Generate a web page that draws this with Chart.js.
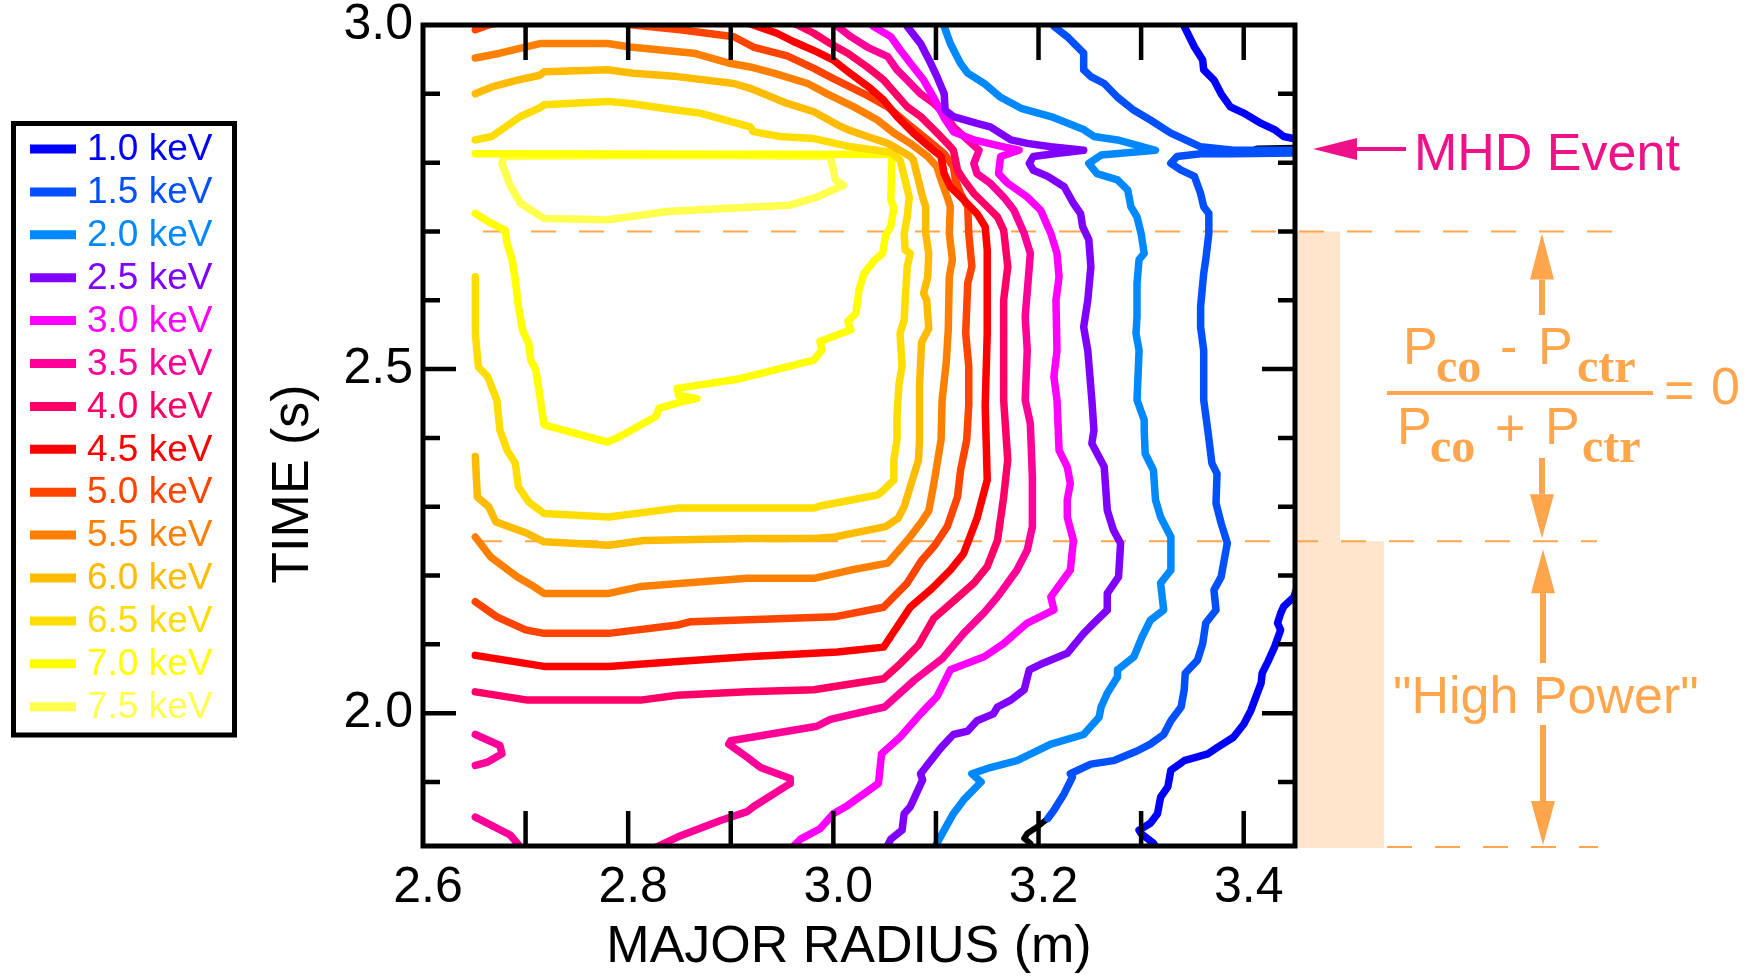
<!DOCTYPE html>
<html>
<head>
<meta charset="utf-8">
<script src="https://cdn.jsdelivr.net/npm/chart.js@4.4.1/dist/chart.umd.min.js"></script>
<style>
  html, body { margin: 0; padding: 0; background: #fff; }
  #wrap { width: 1760px; height: 977px; }
</style>
</head>
<body>
<div id="wrap"><canvas id="myChart" width="1760" height="977"></canvas></div>
<script>
// contour levels and colours (legend order)
const levels = ["1.0 keV", "1.5 keV", "2.0 keV", "2.5 keV", "3.0 keV", "3.5 keV", "4.0 keV",
  "4.5 keV", "5.0 keV", "5.5 keV", "6.0 keV", "6.5 keV", "7.0 keV", "7.5 keV"];
const colors = ["#0000FF", "#0050FF", "#0088FF", "#8000FF", "#FF00FF", "#FF0099", "#FF0066",
  "#FF0000", "#FF4400", "#FF8000", "#FFBB00", "#FFDD00", "#FFFF00", "#FFFF4D"];

const xTicks = [2.6, 2.8, 3.0, 3.2, 3.4];
const yTicks = [2.0, 2.5, 3.0];
const xMinorTicks = [2.7, 2.8, 2.9, 3.0, 3.1, 3.2, 3.3, 3.4];
const yMinorTicks = [1.9, 2.1, 2.2, 2.3, 2.4, 2.6, 2.7, 2.8, 2.9];
const yMajorTicks = [2.0, 2.5];

// contour lines: [major radius (m), time (s)]
const k10a = [[3.340,3.007],[3.342,2.998],[3.352,2.968],[3.360,2.949],[3.361,2.935],[3.371,2.920],[3.378,2.900],
  [3.387,2.881],[3.400,2.872],[3.417,2.857],[3.430,2.848],[3.439,2.838],[3.455,2.833]];
const k10b = [[3.455,2.196],[3.449,2.169],[3.439,2.155],[3.436,2.145],[3.433,2.131],[3.436,2.121],[3.430,2.096],
  [3.423,2.073],[3.418,2.058],[3.417,2.044],[3.407,2.004],[3.400,1.984],[3.390,1.965],[3.374,1.950],[3.365,1.941],
  [3.342,1.931],[3.329,1.917],[3.326,1.893],[3.319,1.878],[3.316,1.854],[3.309,1.840],[3.298,1.830],[3.300,1.825],
  [3.312,1.811],[3.316,1.802]];
const k15 = [[3.213,3.007],[3.215,2.998],[3.228,2.983],[3.244,2.959],[3.244,2.935],[3.251,2.925],[3.264,2.915],
  [3.277,2.895],[3.293,2.876],[3.309,2.862],[3.329,2.843],[3.358,2.823],[3.390,2.818],[3.455,2.818],[3.455,2.814],
  [3.388,2.813],[3.358,2.813],[3.335,2.809],[3.329,2.799],[3.339,2.789],[3.352,2.780],[3.358,2.755],[3.361,2.736],
  [3.366,2.726],[3.366,2.697],[3.363,2.659],[3.361,2.639],[3.358,2.591],[3.358,2.561],[3.361,2.527],[3.361,2.455],
  [3.365,2.411],[3.369,2.363],[3.374,2.348],[3.373,2.305],[3.378,2.276],[3.384,2.247],[3.378,2.198],[3.371,2.179],
  [3.373,2.150],[3.363,2.131],[3.360,2.101],[3.355,2.077],[3.343,2.058],[3.342,2.034],[3.339,2.009],[3.329,1.989],
  [3.322,1.969],[3.309,1.955],[3.296,1.945],[3.273,1.931],[3.251,1.926],[3.231,1.912],[3.233,1.907],[3.225,1.883],
  [3.215,1.859],[3.209,1.847]];
const k20 = [[3.106,3.007],[3.108,2.998],[3.114,2.973],[3.124,2.944],[3.131,2.930],[3.147,2.915],[3.163,2.895],
  [3.183,2.879],[3.212,2.867],[3.244,2.848],[3.254,2.838],[3.277,2.833],[3.314,2.818],[3.261,2.811],[3.249,2.799],
  [3.257,2.784],[3.277,2.775],[3.287,2.760],[3.290,2.736],[3.296,2.721],[3.300,2.697],[3.303,2.668],[3.298,2.659],
  [3.296,2.625],[3.296,2.576],[3.295,2.552],[3.298,2.527],[3.296,2.455],[3.303,2.426],[3.303,2.411],[3.304,2.377],
  [3.312,2.353],[3.314,2.310],[3.319,2.285],[3.329,2.256],[3.329,2.208],[3.319,2.189],[3.322,2.150],[3.309,2.135],
  [3.301,2.111],[3.293,2.082],[3.277,2.063],[3.277,2.053],[3.267,2.029],[3.261,2.009],[3.259,1.994],[3.244,1.969],
  [3.212,1.955],[3.179,1.931],[3.153,1.921],[3.135,1.912],[3.144,1.900],[3.127,1.874],[3.117,1.854],[3.108,1.830],
  [3.101,1.811],[3.098,1.802]];
const k25 = [[3.068,3.007],[3.072,2.998],[3.085,2.973],[3.095,2.944],[3.101,2.925],[3.108,2.900],[3.109,2.876],
  [3.117,2.867],[3.140,2.857],[3.153,2.852],[3.173,2.833],[3.189,2.828],[3.212,2.823],[3.244,2.818],[3.215,2.813],
  [3.195,2.809],[3.191,2.799],[3.195,2.789],[3.209,2.780],[3.225,2.765],[3.234,2.741],[3.241,2.726],[3.243,2.707],
  [3.249,2.688],[3.251,2.649],[3.248,2.600],[3.244,2.561],[3.248,2.527],[3.252,2.455],[3.254,2.411],[3.252,2.392],
  [3.264,2.358],[3.267,2.295],[3.273,2.266],[3.280,2.247],[3.278,2.198],[3.267,2.174],[3.267,2.150],[3.254,2.131],
  [3.244,2.116],[3.228,2.087],[3.205,2.073],[3.191,2.063],[3.186,2.034],[3.173,2.019],[3.160,2.009],[3.156,1.999],
  [3.140,1.989],[3.131,1.974],[3.117,1.969],[3.105,1.950],[3.095,1.931],[3.085,1.912],[3.087,1.903],[3.075,1.864],
  [3.069,1.854],[3.067,1.830],[3.056,1.817],[3.051,1.802]];
const k30 = [[3.034,3.007],[3.039,2.998],[3.056,2.983],[3.065,2.964],[3.078,2.939],[3.088,2.920],[3.098,2.894],
  [3.108,2.865],[3.117,2.845],[3.137,2.833],[3.166,2.823],[3.181,2.818],[3.163,2.809],[3.161,2.784],[3.170,2.770],
  [3.189,2.750],[3.202,2.731],[3.212,2.697],[3.218,2.668],[3.220,2.634],[3.217,2.600],[3.218,2.527],[3.215,2.489],
  [3.218,2.455],[3.220,2.382],[3.228,2.358],[3.231,2.334],[3.228,2.310],[3.228,2.285],[3.234,2.251],[3.231,2.208],
  [3.212,2.169],[3.215,2.150],[3.189,2.131],[3.166,2.101],[3.147,2.082],[3.114,2.063],[3.101,2.024],[3.085,1.999],
  [3.065,1.965],[3.047,1.941],[3.044,1.898],[3.014,1.866],[3.000,1.854],[2.987,1.832],[2.968,1.817],[2.958,1.802]];
const k35 = [[2.997,3.007],[3.004,2.998],[3.017,2.983],[3.033,2.968],[3.053,2.954],[3.062,2.935],[3.072,2.920],
  [3.085,2.900],[3.098,2.886],[3.111,2.867],[3.117,2.852],[3.131,2.833],[3.142,2.818],[3.137,2.799],[3.140,2.784],
  [3.153,2.770],[3.166,2.750],[3.176,2.731],[3.186,2.697],[3.192,2.668],[3.191,2.649],[3.187,2.576],[3.189,2.527],
  [3.187,2.455],[3.192,2.421],[3.194,2.343],[3.194,2.271],[3.189,2.237],[3.179,2.208],[3.160,2.169],[3.147,2.146],
  [3.127,2.116],[3.106,2.079],[3.079,2.048],[3.050,2.009],[2.997,1.991],[2.984,1.981],[2.900,1.960],[2.898,1.955],
  [2.916,1.936],[2.929,1.921],[2.958,1.905],[2.958,1.898],[2.922,1.864],[2.916,1.857],[2.890,1.844],[2.848,1.820],
  [2.831,1.808],[2.822,1.802]];
const k35b = [[2.651,1.969],[2.675,1.953],[2.677,1.941],[2.663,1.929],[2.651,1.924]];
const k35c = [[2.651,1.849],[2.685,1.823],[2.693,1.809],[2.696,1.798]];
const k40 = [[2.953,3.007],[2.965,3.000],[2.981,2.988],[2.997,2.973],[3.014,2.959],[3.033,2.939],[3.049,2.920],
  [3.059,2.903],[3.072,2.881],[3.085,2.867],[3.098,2.848],[3.111,2.828],[3.117,2.818],[3.119,2.804],[3.121,2.789],
  [3.127,2.775],[3.137,2.755],[3.150,2.736],[3.160,2.721],[3.166,2.702],[3.170,2.649],[3.166,2.600],[3.166,2.455],
  [3.170,2.368],[3.166,2.314],[3.160,2.251],[3.150,2.213],[3.137,2.189],[3.121,2.168],[3.098,2.138],[3.083,2.099],
  [3.066,2.073],[3.049,2.050],[2.981,2.034],[2.916,2.031],[2.848,2.026],[2.812,2.019],[2.702,2.019],[2.651,2.031]];
const k45 = [[2.909,3.007],[2.922,3.000],[2.945,2.988],[2.961,2.976],[2.984,2.961],[3.000,2.949],[3.017,2.929],
  [3.036,2.908],[3.049,2.891],[3.062,2.867],[3.078,2.843],[3.095,2.821],[3.105,2.809],[3.108,2.784],[3.114,2.765],
  [3.127,2.746],[3.140,2.726],[3.148,2.707],[3.150,2.673],[3.150,2.552],[3.148,2.447],[3.150,2.339],[3.140,2.283],
  [3.127,2.232],[3.114,2.208],[3.096,2.181],[3.075,2.154],[3.057,2.114],[3.049,2.096],[3.004,2.089],[2.916,2.082],
  [2.848,2.075],[2.781,2.068],[2.718,2.068],[2.651,2.084]];
const k50 = [[2.651,2.993],[2.666,3.001],[2.685,3.006],[2.734,3.013],[2.773,3.010],[2.805,3.000],[2.851,2.993],
  [2.903,2.983],[2.922,2.968],[2.955,2.955],[2.981,2.937],[3.000,2.922],[3.030,2.900],[3.053,2.881],[3.072,2.857],
  [3.092,2.833],[3.108,2.813],[3.117,2.794],[3.119,2.775],[3.124,2.755],[3.131,2.736],[3.132,2.697],[3.135,2.649],
  [3.131,2.625],[3.129,2.552],[3.132,2.504],[3.132,2.448],[3.130,2.397],[3.124,2.353],[3.121,2.314],[3.111,2.271],
  [3.099,2.244],[3.086,2.222],[3.072,2.189],[3.049,2.154],[3.001,2.140],[2.861,2.133],[2.848,2.128],[2.781,2.116],
  [2.718,2.116],[2.700,2.121],[2.672,2.140],[2.651,2.162]];
const k55 = [[2.651,2.952],[2.675,2.959],[2.714,2.973],[2.780,2.973],[2.802,2.968],[2.864,2.959],[2.900,2.944],
  [2.919,2.939],[2.942,2.930],[2.975,2.915],[2.994,2.900],[3.020,2.881],[3.043,2.862],[3.059,2.843],[3.075,2.828],
  [3.092,2.809],[3.101,2.794],[3.105,2.775],[3.111,2.750],[3.114,2.736],[3.113,2.697],[3.116,2.659],[3.113,2.634],
  [3.112,2.557],[3.110,2.509],[3.106,2.455],[3.105,2.397],[3.098,2.334],[3.093,2.294],[3.085,2.276],[3.072,2.251],
  [3.053,2.218],[3.017,2.208],[2.981,2.196],[2.916,2.196],[2.812,2.184],[2.781,2.174],[2.718,2.174],[2.708,2.184],
  [2.692,2.198],[2.666,2.227],[2.651,2.256]];
const k60 = [[2.651,2.900],[2.667,2.910],[2.692,2.920],[2.714,2.927],[2.718,2.932],[2.780,2.935],[2.805,2.930],
  [2.848,2.925],[2.903,2.915],[2.919,2.908],[2.955,2.886],[2.981,2.874],[3.004,2.855],[3.014,2.848],[3.033,2.838],
  [3.053,2.828],[3.065,2.818],[3.075,2.809],[3.078,2.804],[3.082,2.780],[3.087,2.750],[3.090,2.736],[3.090,2.697],
  [3.093,2.668],[3.092,2.634],[3.088,2.610],[3.091,2.600],[3.093,2.559],[3.086,2.539],[3.084,2.477],[3.084,2.396],
  [3.083,2.368],[3.075,2.329],[3.069,2.300],[3.063,2.283],[3.051,2.271],[3.001,2.256],[2.981,2.254],[2.916,2.254],
  [2.815,2.251],[2.781,2.244],[2.718,2.249],[2.702,2.261],[2.671,2.278],[2.664,2.300],[2.653,2.314],[2.651,2.373]];
const k65 = [[2.651,2.833],[2.667,2.838],[2.695,2.867],[2.713,2.879],[2.718,2.884],[2.780,2.889],[2.802,2.886],
  [2.848,2.876],[2.870,2.872],[2.919,2.852],[2.922,2.845],[2.948,2.838],[2.981,2.835],[3.017,2.823],[3.056,2.815],
  [3.065,2.804],[3.069,2.780],[3.074,2.750],[3.072,2.721],[3.069,2.697],[3.070,2.673],[3.075,2.668],[3.072,2.649],
  [3.070,2.600],[3.069,2.571],[3.065,2.552],[3.067,2.504],[3.064,2.479],[3.062,2.431],[3.062,2.397],[3.059,2.368],
  [3.059,2.339],[3.049,2.324],[3.043,2.317],[2.987,2.301],[2.981,2.298],[2.848,2.298],[2.781,2.285],[2.718,2.290],
  [2.703,2.307],[2.693,2.329],[2.690,2.363],[2.682,2.382],[2.675,2.411],[2.672,2.455],[2.663,2.489],[2.654,2.503],
  [2.651,2.552],[2.651,2.634]];
const k70 = [[2.651,2.813],[3.059,2.812],[3.057,2.804],[3.056,2.746],[3.059,2.735],[3.056,2.707],[3.051,2.695],
  [3.048,2.668],[3.040,2.658],[3.030,2.639],[3.025,2.615],[3.022,2.581],[3.014,2.569],[3.017,2.557],[2.987,2.540],
  [2.989,2.528],[2.981,2.513],[2.909,2.486],[2.848,2.472],[2.849,2.462],[2.867,2.457],[2.851,2.452],[2.830,2.443],
  [2.827,2.431],[2.792,2.402],[2.780,2.394],[2.718,2.419],[2.714,2.460],[2.710,2.499],[2.705,2.513],[2.703,2.537],
  [2.697,2.557],[2.693,2.591],[2.690,2.629],[2.687,2.658],[2.682,2.683],[2.680,2.702],[2.664,2.714],[2.651,2.726]];
const k75 = [[2.679,2.809],[2.780,2.810],[2.900,2.810],[2.997,2.809],[3.002,2.775],[3.010,2.767],[2.984,2.750],
  [2.957,2.738],[2.903,2.734],[2.838,2.729],[2.780,2.717],[2.718,2.719],[2.695,2.741],[2.685,2.767],[2.677,2.799],
  [2.679,2.809]];
// unlabelled black pieces
const kBlackA = [[3.413,2.817],[3.455,2.818]];
const kBlackB = [[3.209,1.847],[3.199,1.835],[3.189,1.825],[3.186,1.818],[3.192,1.811],[3.194,1.802]];

// [level index (-1 = black), points, line width]
const contours = [
  [0, k10a, 7.5], [0, k10b, 7.5], [1, k15, 7.5], [2, k20, 7.5], [3, k25, 7.5], [4, k30, 7.5],
  [5, k35, 7.5], [5, k35b, 7.5], [5, k35c, 7.5], [6, k40, 7.5], [7, k45, 7.5], [8, k50, 7.5],
  [9, k55, 7.5], [10, k60, 7.5], [11, k65, 7.5], [12, k70, 7.5], [13, k75, 7.5],
  [-1, kBlackA, 11], [-1, kBlackB, 6]
];

const FONT = "'Liberation Sans', Arial, Helvetica, sans-serif";
const ORANGE = "#FFA64D";
const PEACH = "#FEE5CC";
const PINK = "#EE1187";

function arrow(ctx, x0, y0, x1, y1, head, half, lw) {
  const a = Math.atan2(y1 - y0, x1 - x0);
  const bx = x1 - head * Math.cos(a), by = y1 - head * Math.sin(a);
  ctx.lineWidth = lw;
  ctx.beginPath(); ctx.moveTo(x0, y0); ctx.lineTo(bx, by); ctx.stroke();
  ctx.beginPath();
  ctx.moveTo(x1, y1);
  ctx.lineTo(bx + half * Math.sin(a), by - half * Math.cos(a));
  ctx.lineTo(bx - half * Math.sin(a), by + half * Math.cos(a));
  ctx.closePath(); ctx.fill();
}

function dashed(ctx, x0, x1, y) {
  ctx.beginPath(); ctx.moveTo(x0, y); ctx.lineTo(x1, y); ctx.stroke();
}

const decor = {
  id: "decor",
  beforeDatasetsDraw(chart) {
    const { ctx, chartArea: a } = chart;
    const y = chart.scales.y;
    const y27 = y.getPixelForValue(2.7), y225 = y.getPixelForValue(2.25);
    ctx.save();
    // shaded time windows right of the frame
    ctx.fillStyle = PEACH;
    ctx.fillRect(a.right + 2, y27, 43, y225 - y27);
    ctx.fillRect(a.right + 2, y225, 87, a.bottom - y225 + 2);
    ctx.strokeStyle = ORANGE; ctx.lineWidth = 2; ctx.setLineDash([25, 23]);
    dashed(ctx, 483, 1615, y27);
    dashed(ctx, 477, 1597, y225);
    dashed(ctx, 1387, 1598, a.bottom + 1);
    ctx.restore();
  },
  afterDatasetsDraw(chart) {
    const { ctx, chartArea: a } = chart;
    const x = chart.scales.x, y = chart.scales.y;
    ctx.save();
    ctx.strokeStyle = "#000"; ctx.lineWidth = 5;
    ctx.strokeRect(a.left, a.top, a.right - a.left, a.bottom - a.top);
    ctx.lineWidth = 4.5;
    ctx.beginPath();
    xMinorTicks.forEach((v) => {
      const px = x.getPixelForValue(v);
      ctx.moveTo(px, a.top); ctx.lineTo(px, a.top + 35);
      ctx.moveTo(px, a.bottom); ctx.lineTo(px, a.bottom - 35);
    });
    yMinorTicks.forEach((v) => {
      const py = y.getPixelForValue(v);
      ctx.moveTo(a.left, py); ctx.lineTo(a.left + 17, py);
      ctx.moveTo(a.right, py); ctx.lineTo(a.right - 17, py);
    });
    yMajorTicks.forEach((v) => {
      const py = y.getPixelForValue(v);
      ctx.moveTo(a.left, py); ctx.lineTo(a.left + 33, py);
      ctx.moveTo(a.right, py); ctx.lineTo(a.right - 33, py);
    });
    ctx.stroke();
    ctx.restore();
  },
  afterDraw(chart) {
    const { ctx, chartArea: a } = chart;
    const y = chart.scales.y;
    const y27 = y.getPixelForValue(2.7), y225 = y.getPixelForValue(2.25);
    ctx.save();

    // axis titles
    ctx.fillStyle = "#000";
    ctx.font = "52px " + FONT;
    ctx.textAlign = "center"; ctx.textBaseline = "middle";
    ctx.fillText("MAJOR RADIUS (m)", 849, 948);
    ctx.save();
    ctx.translate(294, 484); ctx.rotate(-Math.PI / 2);
    ctx.fillText("TIME (s)", 0, 0);
    ctx.restore();

    // legend box
    ctx.lineWidth = 5; ctx.strokeStyle = "#000";
    ctx.strokeRect(13.5, 123.5, 221, 611.5);
    ctx.font = "37px " + FONT;
    ctx.textAlign = "left"; ctx.textBaseline = "middle";
    levels.forEach((lab, i) => {
      const ly = 149 + i * 42.9;
      ctx.strokeStyle = colors[i]; ctx.lineWidth = 9;
      ctx.beginPath(); ctx.moveTo(30, ly); ctx.lineTo(76, ly); ctx.stroke();
      ctx.fillStyle = colors[i];
      ctx.fillText(lab, 87, ly + 1);
    });

    // MHD event marker
    ctx.fillStyle = PINK; ctx.strokeStyle = PINK;
    arrow(ctx, 1406, 149, 1313, 149, 44, 11, 4);
    ctx.font = "52px " + FONT;
    ctx.textAlign = "left"; ctx.textBaseline = "alphabetic";
    ctx.fillText("MHD Event", 1414, 170);

    // balanced beam window
    ctx.fillStyle = ORANGE; ctx.strokeStyle = ORANGE;
    arrow(ctx, 1542, 315, 1542, y27 + 2, 46, 12, 6);
    arrow(ctx, 1542, 458, 1542, y225 - 3, 44, 12, 6);
    arrow(ctx, 1543, 663, 1543, y225 + 8, 44, 12, 6);
    arrow(ctx, 1543, 725, 1543, a.bottom - 1, 44, 12, 6);

    ctx.lineWidth = 4;
    ctx.beginPath(); ctx.moveTo(1387, 393); ctx.lineTo(1653, 393); ctx.stroke();
    ctx.textBaseline = "alphabetic"; ctx.textAlign = "left";
    const sans = "52px " + FONT;
    const serif = "bold 48px 'Liberation Serif', 'Times New Roman', serif";
    ctx.font = sans; ctx.fillText("P", 1403, 364);
    ctx.font = serif; ctx.fillText("co", 1436, 382);
    ctx.font = sans; ctx.fillText("-", 1500, 364);
    ctx.font = sans; ctx.fillText("P", 1538, 364);
    ctx.font = serif; ctx.fillText("ctr", 1577, 382);
    ctx.font = sans; ctx.fillText("P", 1397, 444);
    ctx.font = serif; ctx.fillText("co", 1430, 462);
    ctx.font = sans; ctx.fillText("+", 1495, 446);
    ctx.font = sans; ctx.fillText("P", 1545, 444);
    ctx.font = serif; ctx.fillText("ctr", 1582, 462);
    ctx.font = sans; ctx.textBaseline = "middle";
    ctx.fillText("=", 1664, 394);
    ctx.fillText("0", 1711, 390);

    ctx.textBaseline = "alphabetic";
    ctx.fillText("\"High Power\"", 1393, 713);
    ctx.restore();
  }
};

const ctx = document.getElementById("myChart").getContext("2d");

new Chart(ctx, {
  type: "scatter",
  data: {
    datasets: contours.map(([lv, pts, w]) => ({
      label: lv < 0 ? "" : levels[lv],
      data: pts.map(([r, t]) => ({ x: r, y: t })),
      showLine: true,
      borderColor: lv < 0 ? "#000" : colors[lv],
      backgroundColor: lv < 0 ? "#000" : colors[lv],
      borderWidth: w,
      borderJoinStyle: "round",
      borderCapStyle: "round",
      pointRadius: 0,
      tension: 0,
      fill: false,
      clip: 0
    }))
  },
  options: {
    responsive: false,
    animation: false,
    events: [],
    devicePixelRatio: 1,
    layout: { padding: { left: 0, right: 465, top: 25, bottom: 0 }, autoPadding: false },
    plugins: { legend: { display: false }, tooltip: { enabled: false } },
    scales: {
      x: {
        type: "linear", min: 2.6, max: 3.45,
        grid: { display: false, drawTicks: false },
        border: { display: false },
        ticks: {
          font: { family: FONT, size: 50 }, color: "#000", padding: 12,
          maxRotation: 0, autoSkip: false, labelOffset: 5,
          callback: (v) => Number(v).toFixed(1)
        },
        afterBuildTicks: (s) => { s.ticks = xTicks.map((v) => ({ value: v })); },
        afterFit: (s) => { s.height = 131; s.paddingLeft = 0; s.paddingRight = 0; }
      },
      y: {
        type: "linear", min: 1.807, max: 3.0,
        grid: { display: false, drawTicks: false },
        border: { display: false },
        ticks: {
          font: { family: FONT, size: 50 }, color: "#000", padding: 10,
          autoSkip: false,
          callback: (v) => Number(v).toFixed(1)
        },
        afterBuildTicks: (s) => { s.ticks = yTicks.map((v) => ({ value: v })); },
        afterFit: (s) => { s.width = 423; s.paddingTop = 0; s.paddingBottom = 0; }
      }
    }
  },
  plugins: [decor]
});
</script>
</body>
</html>
